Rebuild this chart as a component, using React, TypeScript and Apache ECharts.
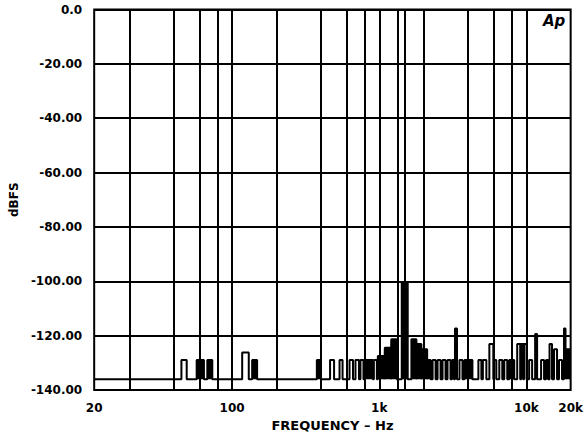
import React, { useEffect, useRef } from 'react';
import * as echarts from 'echarts';

// ---- axis data ----
const X_MIN = 11.54;
const X_MAX = 20000;
const xTickValues = [11.54, 100, 1000, 10000, 20000];
const xTickLabels = ['20', '100', '1k', '10k', '20k'];
const yTickValues = [-140, -120, -100, -80, -60, -40, -20, 0];
const yTickLabels = ['-140.00', '-120.00', '-100.00', '-80.00', '-60.00', '-40.00', '-20.00', '0.0'];
const gridFreqs = [20, 40, 60, 80, 100, 200, 400, 600, 800, 1000, 1340, 1500, 2000, 4000, 6000, 8000, 10000];

// ---- spectrum data (Hz, dBFS) ----
const floorDb = -136;
const pulseLo = [45.2, 57.4, 67.8, 117, 136.8, 376.5, 463, 537, 628, 689, 745, 799, 919, 978, 1091, 1207, 1422, 1654, 1797, 1942, 2133, 2305, 2491, 2693, 2911, 3123, 3272, 3510, 3794, 4719, 5062, 5602, 6030, 6544, 7076, 7649, 8664, 9222, 9663, 10440, 11470, 12590, 13610, 14370, 15420, 16670, 18020, 18590];
const pulseHi = [49.1, 64.3, 73.3, 129.7, 147.8, 400.7, 493, 563, 663, 728, 781, 905, 963, 1083, 1198, 1315, 1561, 1788, 1933, 2116, 2235, 2415, 2610, 2822, 3050, 3221, 3376, 3678, 4298, 4945, 5346, 5961, 6246, 6857, 7413, 8268, 9078, 9513, 10046, 10940, 11830, 13190, 14040, 14940, 16160, 17470, 18450, 19790];
const pulseDb = [-129, -129, -129, -126.2, -129, -129, -129, -129, -129, -129, -129, -129, -129, -127.5, -124.5, -121.3, -100.4, -121.3, -123.1, -125, -129, -129, -129, -129, -129, -129, -117.4, -129, -129, -129, -129, -123.1, -129, -129, -129, -129, -123.1, -123.1, -123.1, -129, -119.4, -129, -129, -123.1, -125, -129, -117.4, -125];
const pulseSolid = [0, 1, 1, 0, 1, 1, 0, 0, 0, 0, 0, 1, 0, 1, 1, 1, 1, 1, 1, 1, 1, 0, 0, 0, 0, 0, 0, 0, 1, 0, 0, 0, 0, 0, 0, 1, 0, 0, 0, 0, 0, 0, 0, 0, 0, 0, 0, 1];

const FONT = 'DejaVu Sans';

export default function App() {
  const ref = useRef<HTMLDivElement>(null);
  useEffect(() => {
    if (!ref.current) return;
    const chart = echarts.init(ref.current, undefined, { renderer: 'svg' });

    const tracePts: number[][] = [[X_MIN, floorDb]];
    const fillPts: number[][] = [[X_MIN, floorDb]];
    for (let i = 0; i < pulseLo.length; i++) {
      const seg = [
        [pulseLo[i], floorDb],
        [pulseLo[i], pulseDb[i]],
        [pulseHi[i], pulseDb[i]],
        [pulseHi[i], floorDb],
      ];
      tracePts.push(...seg);
      if (pulseSolid[i]) fillPts.push(...seg);
    }
    tracePts.push([X_MAX, floorDb]);
    fillPts.push([X_MAX, floorDb]);

    const xFmt = (v: number) => {
      let best = 0;
      let bd = Infinity;
      for (let i = 0; i < xTickValues.length; i++) {
        const d = Math.abs(Math.log10(v) - Math.log10(xTickValues[i]));
        if (d < bd) { bd = d; best = i; }
      }
      return xTickLabels[best];
    };
    const yFmt = (v: number) => {
      const i = yTickValues.indexOf(v);
      return i >= 0 ? yTickLabels[i] : '';
    };

    chart.setOption({
      animation: false,
      backgroundColor: '#fff',
      grid: {
        left: 93, right: 14.3, top: 9.5, bottom: 51,
        show: true, borderColor: '#000', borderWidth: 2, backgroundColor: 'transparent',
      },
      xAxis: {
        type: 'log', logBase: 10, min: X_MIN, max: X_MAX,
        name: 'FREQUENCY – Hz', nameLocation: 'middle', nameGap: 28,
        nameTextStyle: { fontFamily: FONT, fontWeight: 'bold', fontSize: 13, color: '#000' },
        axisLine: { show: false }, axisTick: { show: false }, splitLine: { show: false },
        axisLabel: {
          customValues: xTickValues, formatter: xFmt, showMinLabel: true, showMaxLabel: true,
          margin: 12, fontFamily: FONT, fontWeight: 'bold', fontSize: 12, color: '#000',
        },
      },
      yAxis: {
        type: 'value', min: -140, max: 0, interval: 20,
        name: 'dBFS', nameLocation: 'middle', nameGap: 74, nameRotate: 90,
        nameTextStyle: { fontFamily: FONT, fontWeight: 'bold', fontSize: 12, color: '#000' },
        axisLine: { show: false }, axisTick: { show: false },
        splitLine: { show: true, lineStyle: { color: '#000', width: 2 } },
        axisLabel: { formatter: yFmt, margin: 12, fontFamily: FONT, fontWeight: 'bold', fontSize: 12, color: '#000' },
      },
      series: [
        {
          name: 'fill', type: 'line', data: fillPts, symbol: 'none', silent: true,
          lineStyle: { width: 0 }, areaStyle: { color: '#000', opacity: 1, origin: floorDb }, z: 2,
        },
        {
          name: 'spectrum', type: 'line', data: tracePts, symbol: 'none', silent: true,
          lineStyle: { color: '#000', width: 2 }, z: 3,
          markLine: {
            silent: true, symbol: ['none', 'none'], label: { show: false },
            lineStyle: { color: '#000', width: 2, type: 'solid' },
            data: gridFreqs.map((f) => ({ xAxis: f })),
          },
        },
      ],
      graphic: [
        {
          type: 'text', left: 543, top: 13,
          style: { text: 'Ap', fontFamily: FONT, fontStyle: 'italic', fontWeight: 'bold', fontSize: 15, fill: '#000' },
        },
      ],
    });
    return () => chart.dispose();
  }, []);
  return <div ref={ref} style={{ position: 'fixed', left: 0, top: 0, width: 586, height: 441 }} />;
}
